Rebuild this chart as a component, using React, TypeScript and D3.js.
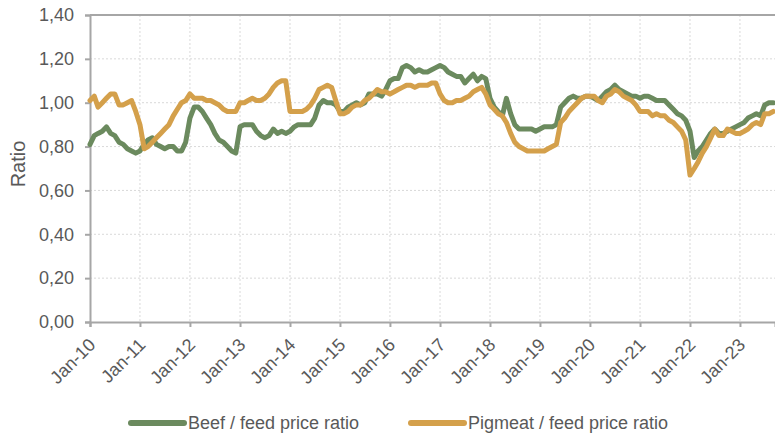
import React, { useEffect, useRef } from 'react';
import * as d3 from 'd3';

// monthly ratios, Jan 2010 - Sep 2023
const beefRatio: number[] = [
  0.81, 0.85, 0.86, 0.87, 0.89, 0.86, 0.85, 0.82, 0.81, 0.79, 0.78, 0.77,
  0.78, 0.81, 0.83, 0.84, 0.81, 0.80, 0.79, 0.80, 0.80, 0.78, 0.78, 0.82,
  0.93, 0.98, 0.98, 0.96, 0.93, 0.90, 0.86, 0.83, 0.82, 0.80, 0.78, 0.77,
  0.89, 0.90, 0.90, 0.90, 0.87, 0.85, 0.84, 0.85, 0.88, 0.86, 0.87, 0.86,
  0.87, 0.89, 0.90, 0.90, 0.90, 0.90, 0.93, 0.99, 1.01, 1.00, 1.00, 0.99,
  0.96, 0.96, 0.98, 0.99, 1.00, 0.99, 1.00, 1.04, 1.04, 1.04, 1.03, 1.06,
  1.10, 1.11, 1.11, 1.16, 1.17, 1.16, 1.14, 1.15, 1.14, 1.14, 1.15, 1.16,
  1.17, 1.16, 1.14, 1.13, 1.12, 1.12, 1.09, 1.11, 1.13, 1.10, 1.12, 1.11,
  1.02, 0.98, 0.96, 0.94, 1.02, 0.95, 0.90, 0.88, 0.88, 0.88, 0.88, 0.87,
  0.88, 0.89, 0.89, 0.89, 0.90, 0.98, 1.00, 1.02, 1.03, 1.02, 1.02, 1.03,
  1.03, 1.02, 1.01, 1.03, 1.05, 1.06, 1.08, 1.06, 1.05, 1.04, 1.03, 1.03,
  1.02, 1.03, 1.03, 1.02, 1.01, 1.01, 1.01, 0.99, 0.97, 0.95, 0.94, 0.92,
  0.87, 0.75, 0.78, 0.80, 0.83, 0.86, 0.88, 0.86, 0.86, 0.87, 0.88, 0.89,
  0.90, 0.91, 0.93, 0.94, 0.95, 0.94, 0.99, 1.00, 1.00
];

const pigRatio: number[] = [
  1.01, 1.03, 0.98, 1.00, 1.02, 1.04, 1.04, 0.99, 0.99, 1.00, 1.01, 0.96,
  0.90, 0.79, 0.80, 0.82, 0.84, 0.86, 0.88, 0.90, 0.94, 0.97, 1.00, 1.01,
  1.04, 1.02, 1.02, 1.02, 1.01, 1.01, 1.00, 0.99, 0.97, 0.96, 0.96, 0.96,
  1.00, 1.00, 1.01, 1.02, 1.01, 1.01, 1.02, 1.04, 1.07, 1.09, 1.10, 1.10,
  0.96, 0.96, 0.96, 0.96, 0.97, 0.99, 1.02, 1.06, 1.07, 1.08, 1.07, 1.01,
  0.95, 0.95, 0.96, 0.98, 0.99, 0.99, 1.01, 1.02, 1.04, 1.06, 1.05, 1.05,
  1.04, 1.05, 1.06, 1.07, 1.08, 1.08, 1.07, 1.08, 1.08, 1.08, 1.09, 1.09,
  1.04, 1.01, 1.00, 1.00, 1.01, 1.01, 1.02, 1.03, 1.05, 1.06, 1.07, 1.04,
  0.99, 0.97, 0.95, 0.94, 0.91, 0.86, 0.82, 0.80, 0.79, 0.78, 0.78, 0.78,
  0.78, 0.78, 0.79, 0.80, 0.81, 0.91, 0.93, 0.96, 0.98, 1.00, 1.02, 1.03,
  1.03, 1.03, 1.01, 1.00, 1.03, 1.04, 1.06, 1.05, 1.03, 1.02, 1.01, 0.99,
  0.96, 0.96, 0.96, 0.94, 0.95, 0.94, 0.94, 0.92, 0.91, 0.89, 0.87, 0.83,
  0.67, 0.70, 0.73, 0.77, 0.80, 0.84, 0.88, 0.85, 0.85, 0.88, 0.87, 0.86,
  0.86, 0.87, 0.88, 0.90, 0.91, 0.90, 0.95, 0.95, 0.96
];

const yTicks: number[] = [0, 0.2, 0.4, 0.6, 0.8, 1.0, 1.2, 1.4];
const tickYears: number[] = d3.range(2010, 2024);

const seriesNames = ['Beef / feed price ratio', 'Pigmeat / feed price ratio'];
const seriesColors = ['#6b8a5e', '#d4a04b'];

const App = () => {
  const ref = useRef<SVGSVGElement | null>(null);

  useEffect(() => {
    if (!ref.current) return;
    const m = { left: 90, right: 775, top: 15, bottom: 322 };
    const font = '"Liberation Sans", Arial, sans-serif';
    const txt = '#595959';
    const axisCol = '#a6a6a6';

    const svg = d3.select(ref.current);
    svg.selectAll('*').remove();

    const months = beefRatio.map((_, i) => new Date(2010, i, 1));

    const x = d3.scaleTime()
      .domain([new Date(2010, 0, 1), new Date(2023, 8, 14)])
      .range([m.left, m.right]);
    const y = d3.scaleLinear().domain([0, 1.4]).range([m.bottom, m.top]);

    // gridlines
    const grid = svg.append('g');
    grid.selectAll('line.h')
      .data(yTicks.slice(1, -1))
      .enter().append('line')
      .attr('x1', m.left).attr('x2', m.right)
      .attr('y1', d => y(d)).attr('y2', d => y(d))
      .attr('stroke', '#d9d9d9').attr('stroke-width', 1)
      .attr('stroke-dasharray', '2,2');
    grid.selectAll('line.v')
      .data(tickYears.slice(1))
      .enter().append('line')
      .attr('x1', d => x(new Date(d, 0, 1))).attr('x2', d => x(new Date(d, 0, 1)))
      .attr('y1', m.top).attr('y2', m.bottom)
      .attr('stroke', '#d9d9d9').attr('stroke-width', 1)
      .attr('stroke-dasharray', '2,2');

    // top border
    svg.append('line')
      .attr('x1', m.left).attr('x2', m.right)
      .attr('y1', y(1.4)).attr('y2', y(1.4))
      .attr('stroke', axisCol).attr('stroke-width', 2);

    // y axis
    const yAxis = svg.append('g')
      .attr('transform', `translate(${m.left},0)`)
      .call(d3.axisLeft(y).tickValues(yTicks).tickSize(5).tickPadding(11)
        .tickFormat(d => d3.format('.2f')(d as number).replace('.', ',')));
    yAxis.select('.domain').attr('stroke', axisCol).attr('stroke-width', 2);
    yAxis.selectAll('.tick line').attr('stroke', axisCol).attr('stroke-width', 2);
    yAxis.selectAll('.tick text')
      .attr('fill', txt).style('font-family', font).style('font-size', '18px');

    // x axis
    const xAxis = svg.append('g')
      .attr('transform', `translate(0,${m.bottom})`)
      .call(d3.axisBottom(x)
        .tickValues(tickYears.map(yr => new Date(yr, 0, 1)))
        .tickSize(5)
        .tickFormat(d => d3.timeFormat('%b-%y')(d as Date)));
    xAxis.select('.domain').attr('stroke', axisCol).attr('stroke-width', 2);
    xAxis.selectAll('.tick line').attr('stroke', axisCol).attr('stroke-width', 2);
    xAxis.selectAll('.tick text')
      .attr('fill', txt).style('font-family', font).style('font-size', '18px')
      .attr('text-anchor', 'end')
      .attr('dy', null)
      .attr('y', 0)
      .attr('transform', 'translate(6,24) rotate(-45)');

    // y title
    svg.append('text')
      .attr('transform', `translate(25,164) rotate(-90)`)
      .attr('text-anchor', 'middle')
      .attr('fill', txt).style('font-family', font).style('font-size', '20px')
      .text('Ratio');

    // lines
    const line = d3.line<number>()
      .x((_, i) => x(months[i]))
      .y(d => y(d));

    [beefRatio, pigRatio].forEach((s, k) => {
      svg.append('path')
        .datum(s)
        .attr('d', line)
        .attr('fill', 'none')
        .attr('stroke', seriesColors[k])
        .attr('stroke-width', 5)
        .attr('stroke-linejoin', 'round')
        .attr('stroke-linecap', 'round');
    });

    // legend
    const legX = [131, 411];
    seriesNames.forEach((name, k) => {
      const g = svg.append('g').attr('transform', `translate(${legX[k]},423)`);
      g.append('line')
        .attr('x1', 0).attr('x2', 53).attr('y1', 0).attr('y2', 0)
        .attr('stroke', seriesColors[k]).attr('stroke-width', 6)
        .attr('stroke-linecap', 'round');
      g.append('text')
        .attr('x', 57).attr('y', 6)
        .attr('fill', txt).style('font-family', font).style('font-size', '18px')
        .text(name);
    });
  }, []);

  return (
    <svg ref={ref} width={775} height={433}
      style={{ position: 'absolute', left: 0, top: 0, background: '#fff' }} />
  );
};

export default App;
